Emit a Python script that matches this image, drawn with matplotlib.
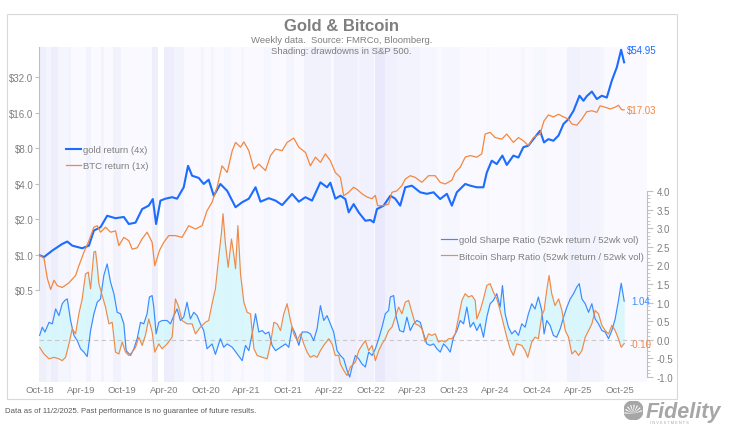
import numpy as np
import pandas as pd
import matplotlib
matplotlib.use("Agg")
import matplotlib.pyplot as plt
import matplotlib.dates as mdates
from matplotlib.ticker import FixedLocator, FuncFormatter, NullLocator
from matplotlib.patches import Rectangle, Circle, Wedge

plt.rcParams['font.family'] = ['Liberation Sans', 'DejaVu Sans']

# ---- data (dates as decimal years) ----
gold_yr = [2018.742, 2018.802, 2018.903, 2019.023, 2019.084, 2019.144, 2019.264, 2019.345, 2019.405,
           2019.485, 2019.565, 2019.666, 2019.766, 2019.826, 2019.907, 2019.987, 2020.067, 2020.116,
           2020.156, 2020.208, 2020.268, 2020.349, 2020.409, 2020.489, 2020.541, 2020.590, 2020.670,
           2020.730, 2020.790, 2020.851, 2020.931, 2021.011, 2021.112, 2021.192, 2021.272, 2021.353,
           2021.413, 2021.513, 2021.594, 2021.674, 2021.794, 2021.875, 2021.955, 2022.035, 2022.136,
           2022.216, 2022.256, 2022.316, 2022.377, 2022.437, 2022.477, 2022.537, 2022.597, 2022.678,
           2022.738, 2022.778, 2022.818, 2022.899, 2022.979, 2023.039, 2023.099, 2023.160, 2023.240,
           2023.340, 2023.421, 2023.501, 2023.581, 2023.662, 2023.722, 2023.782, 2023.883, 2023.943,
           2024.023, 2024.103, 2024.144, 2024.204, 2024.264, 2024.332, 2024.385, 2024.465, 2024.525,
           2024.585, 2024.646, 2024.706, 2024.786, 2024.834, 2024.887, 2024.947, 2025.007, 2025.067,
           2025.127, 2025.188, 2025.260, 2025.308, 2025.348, 2025.409, 2025.469, 2025.529, 2025.589,
           2025.650, 2025.710, 2025.762, 2025.798]
gold_ret = [1.0, 0.96, 1.09, 1.24, 1.30, 1.2, 1.14, 1.2, 1.61,
            1.72, 2.15, 2.05, 2.1, 1.83, 1.88, 2.45, 2.62, 2.98,
            1.83, 2.89, 3.0, 3.09, 3.0, 3.75, 5.7, 4.7, 4.5,
            4.0, 4.35, 3.18, 4.0, 3.5, 2.54, 2.8, 3.0, 3.75,
            2.83, 3.03, 2.89, 2.65, 3.29, 2.83, 3.09, 2.89, 4.13,
            3.75, 4.1, 3.0, 3.18, 2.98, 2.3, 2.7, 2.3, 1.95,
            1.98, 1.89, 2.45, 2.62, 3.18, 3.0, 2.62, 3.75, 3.87,
            3.4, 3.3, 3.4, 2.98, 3.3, 2.62, 3.4, 4.0, 3.87,
            3.75, 3.75, 5.0, 6.3, 5.9, 6.96, 5.8, 6.96, 6.7,
            8.2, 8.45, 9.6, 11.3, 9.0, 9.6, 9.3, 10.3, 12.9,
            14.2, 16.7, 22.4, 20.3, 22.2, 24.3, 21.0, 22.4, 21.6,
            30.1, 39.0, 54.9, 43.0]

btc_yr = [2018.742, 2018.802, 2018.843, 2018.883, 2018.923, 2018.963, 2019.023, 2019.104, 2019.184,
          2019.224, 2019.284, 2019.345, 2019.405, 2019.445, 2019.485, 2019.545, 2019.606, 2019.666,
          2019.706, 2019.766, 2019.826, 2019.867, 2019.927, 2019.987, 2020.047, 2020.108, 2020.140,
          2020.196, 2020.248, 2020.309, 2020.389, 2020.469, 2020.549, 2020.630, 2020.710, 2020.770,
          2020.831, 2020.891, 2020.951, 2021.011, 2021.072, 2021.112, 2021.172, 2021.212, 2021.272,
          2021.333, 2021.393, 2021.473, 2021.533, 2021.594, 2021.674, 2021.734, 2021.814, 2021.875,
          2021.955, 2022.015, 2022.076, 2022.136, 2022.196, 2022.256, 2022.316, 2022.377, 2022.417,
          2022.477, 2022.537, 2022.577, 2022.638, 2022.698, 2022.758, 2022.798, 2022.826, 2022.899,
          2022.959, 2022.999, 2023.059, 2023.119, 2023.160, 2023.220, 2023.280, 2023.360, 2023.441,
          2023.521, 2023.581, 2023.642, 2023.722, 2023.762, 2023.822, 2023.883, 2023.943, 2024.023,
          2024.083, 2024.124, 2024.184, 2024.244, 2024.324, 2024.385, 2024.465, 2024.525, 2024.585,
          2024.646, 2024.706, 2024.786, 2024.834, 2024.887, 2024.947, 2025.007, 2025.067, 2025.127,
          2025.168, 2025.228, 2025.288, 2025.348, 2025.409, 2025.469, 2025.509, 2025.569, 2025.630,
          2025.690, 2025.730, 2025.770, 2025.798]
btc_ret = [1.0, 0.94, 0.63, 0.51, 0.61, 0.55, 0.53, 0.58, 0.67,
           0.81, 1.05, 1.32, 1.72, 1.77, 1.56, 1.72, 1.56, 1.6,
           1.2, 1.41, 1.32, 1.12, 1.15, 1.37, 1.56, 1.28, 0.81,
           1.09, 1.28, 1.46, 1.46, 1.41, 1.77, 1.66, 1.77, 2.37,
           2.8, 3.75, 5.7, 5.0, 7.66, 9.0, 8.2, 9.1, 7.66,
           5.35, 5.9, 5.2, 6.96, 7.9, 7.66, 9.0, 9.8, 8.2,
           7.4, 5.7, 6.75, 6.1, 7.2, 6.3, 5.0, 4.55, 3.18,
           3.4, 3.75, 3.6, 3.3, 3.1, 3.0, 3.2, 2.62, 2.62,
           2.7, 3.4, 3.5, 3.87, 4.4, 4.7, 4.55, 4.13, 4.7,
           4.7, 4.13, 4.0, 4.3, 5.0, 5.53, 6.75, 6.96, 6.75,
           7.2, 10.6, 10.95, 9.9, 9.6, 10.6, 9.0, 9.9, 9.3,
           8.45, 9.9, 10.6, 13.7, 15.4, 14.8, 15.6, 14.8, 14.2,
           12.9, 12.6, 14.2, 16.4, 16.7, 16.2, 18.4, 17.9, 17.3,
           17.9, 18.6, 17.0, 17.03]

gold_sr_yr = [2018.750, 2018.782, 2018.814, 2018.863, 2018.903, 2018.943, 2018.983, 2019.023, 2019.055,
              2019.084, 2019.124, 2019.164, 2019.204, 2019.244, 2019.284, 2019.324, 2019.365, 2019.405,
              2019.445, 2019.485, 2019.525, 2019.565, 2019.606, 2019.646, 2019.686, 2019.726, 2019.766,
              2019.794, 2019.847, 2019.887, 2019.927, 2019.967, 2020.007, 2020.047, 2020.075, 2020.108,
              2020.128, 2020.156, 2020.188, 2020.228, 2020.288, 2020.329, 2020.369, 2020.409, 2020.449,
              2020.489, 2020.529, 2020.569, 2020.610, 2020.650, 2020.690, 2020.730, 2020.770, 2020.831,
              2020.871, 2020.931, 2020.971, 2021.011, 2021.072, 2021.132, 2021.192, 2021.232, 2021.272,
              2021.312, 2021.353, 2021.393, 2021.433, 2021.473, 2021.513, 2021.553, 2021.594, 2021.654,
              2021.714, 2021.754, 2021.794, 2021.834, 2021.875, 2021.915, 2021.975, 2022.015, 2022.055,
              2022.096, 2022.136, 2022.176, 2022.216, 2022.256, 2022.296, 2022.337, 2022.377, 2022.417,
              2022.457, 2022.489, 2022.518, 2022.558, 2022.598, 2022.638, 2022.678, 2022.718, 2022.759,
              2022.799, 2022.839, 2022.879, 2022.919, 2022.959, 2022.979, 2023.020, 2023.052, 2023.092,
              2023.140, 2023.180, 2023.220, 2023.261, 2023.301, 2023.341, 2023.381, 2023.421, 2023.461,
              2023.501, 2023.542, 2023.582, 2023.622, 2023.662, 2023.702, 2023.742, 2023.783, 2023.823,
              2023.863, 2023.903, 2023.943, 2023.983, 2024.024, 2024.064, 2024.104, 2024.144, 2024.184,
              2024.224, 2024.265, 2024.305, 2024.333, 2024.365, 2024.405, 2024.445, 2024.485, 2024.526,
              2024.566, 2024.606, 2024.646, 2024.686, 2024.726, 2024.766, 2024.807, 2024.835, 2024.867,
              2024.907, 2024.947, 2024.987, 2025.028, 2025.068, 2025.108, 2025.148, 2025.188, 2025.228,
              2025.257, 2025.289, 2025.329, 2025.369, 2025.409, 2025.449, 2025.489, 2025.530, 2025.570,
              2025.610, 2025.650, 2025.690, 2025.730, 2025.763, 2025.799]
gold_sr = [0.12, 0.34, 0.21, 0.47, 0.43, 0.83, 0.65, 0.97, 1.06,
           1.10, 0.52, 0.12, -0.02, -0.24, -0.33, -0.45, 0.25, 0.70,
           1.01, 1.10, 1.73, 2.04, 1.55, 1.24, 0.74, 0.70, 0.43,
           -0.29, -0.42, -0.24, 0.03, 0.47, 0.43, 0.70, 1.15, 1.19,
           0.88, 0.16, 0.47, 0.52, 0.52, 0.43, 0.65, 0.83, 0.52,
           0.61, 1.01, 0.56, 0.74, 0.65, 0.43, 0.25, -0.24, -0.11,
           -0.39, 0.03, -0.20, -0.11, -0.20, -0.38, -0.56, -0.15, -0.29,
           0.16, 0.70, 0.21, 0.25, 0.16, 0.21, -0.15, -0.29, -0.20,
           -0.11, -0.20, 0.34, 0.16, -0.15, 0.21, 0.21, 0.16, -0.02,
           0.30, 0.92, 0.52, 0.65, 0.43, 0.21, -0.29, -0.42, -0.51,
           -0.82, -1.0, -0.73, -0.42, -0.51, -0.65, -0.73, -0.33, -0.42,
           -0.24, 0.03, 0.34, 0.70, 0.79, 1.15, 1.19, 0.61, 0.25,
           0.21, 0.61, 0.25, 0.43, 0.52, 0.47, 0.16, -0.11, -0.15,
           -0.11, -0.24, -0.33, -0.11, -0.20, -0.33, 0.07, 0.25, 0.52,
           0.43, 0.88, 0.34, 0.47, 0.25, 0.43, 0.07, 0.61, 0.97,
           1.06, 1.24, 0.88, 1.46, 0.70, 0.34, 0.16, 0.25, 0.12,
           0.43, 0.34, 0.70, 0.97, 0.83, 1.15, 0.79, 0.16, 0.52,
           0.39, 0.12, 0.07, 0.30, 0.61, 0.88, 1.10, 1.24, 1.42,
           1.51, 1.10, 0.97, 0.74, 0.97, 0.56, 0.43, 0.25, 0.21,
           0.03, 0.25, 0.56, 1.06, 1.52, 1.04]

btc_sr_yr = [2018.750, 2018.802, 2018.863, 2018.923, 2018.983, 2019.023, 2019.063, 2019.104, 2019.144,
             2019.184, 2019.224, 2019.264, 2019.304, 2019.337, 2019.365, 2019.405, 2019.425, 2019.445,
             2019.465, 2019.505, 2019.545, 2019.586, 2019.626, 2019.666, 2019.706, 2019.746, 2019.786,
             2019.826, 2019.867, 2019.907, 2019.947, 2019.987, 2020.027, 2020.067, 2020.108, 2020.140,
             2020.188, 2020.228, 2020.288, 2020.349, 2020.389, 2020.429, 2020.469, 2020.529, 2020.590,
             2020.630, 2020.690, 2020.750, 2020.790, 2020.831, 2020.871, 2020.911, 2020.943, 2020.963,
             2020.991, 2021.023, 2021.063, 2021.092, 2021.112, 2021.140, 2021.172, 2021.212, 2021.252,
             2021.292, 2021.333, 2021.373, 2021.433, 2021.493, 2021.533, 2021.574, 2021.614, 2021.654,
             2021.694, 2021.734, 2021.774, 2021.814, 2021.855, 2021.895, 2021.935, 2021.975, 2022.015,
             2022.055, 2022.096, 2022.136, 2022.176, 2022.236, 2022.276, 2022.316, 2022.357, 2022.377,
             2022.417, 2022.457, 2022.497, 2022.558, 2022.598, 2022.638, 2022.678, 2022.718, 2022.759,
             2022.799, 2022.839, 2022.879, 2022.919, 2022.959, 2022.999, 2023.040, 2023.080, 2023.120,
             2023.160, 2023.200, 2023.240, 2023.281, 2023.321, 2023.361, 2023.401, 2023.441, 2023.481,
             2023.522, 2023.562, 2023.602, 2023.642, 2023.682, 2023.722, 2023.763, 2023.803, 2023.843,
             2023.883, 2023.923, 2023.963, 2024.004, 2024.024, 2024.064, 2024.104, 2024.144, 2024.184,
             2024.224, 2024.265, 2024.305, 2024.345, 2024.385, 2024.425, 2024.465, 2024.506, 2024.566,
             2024.606, 2024.638, 2024.686, 2024.726, 2024.766, 2024.807, 2024.835, 2024.867, 2024.895,
             2024.927, 2024.967, 2025.008, 2025.048, 2025.088, 2025.128, 2025.168, 2025.208, 2025.249,
             2025.289, 2025.329, 2025.369, 2025.409, 2025.449, 2025.489, 2025.530, 2025.570, 2025.610,
             2025.650, 2025.690, 2025.730, 2025.763, 2025.799]
btc_sr = [-0.20, -0.38, -0.51, -0.47, -0.51, -0.56, -0.47, -0.11, 0.30,
          0.16, 0.70, 1.10, 1.77, 1.82, 1.37, 2.36, 2.38, 2.0,
          1.51, 1.19, 0.88, 0.43, 0.47, -0.33, -0.38, -0.06, -0.33,
          -0.42, -0.33, -0.20, 0.07, -0.15, 0.12, 0.56, 0.21, -0.33,
          -0.11, -0.24, -0.11, 0.07, 1.10, 0.88, 0.52, 0.43, 0.43,
          0.16, 0.34, 0.47, 0.52, 0.97, 1.37, 2.22, 2.85, 3.39,
          2.60, 1.95, 2.71, 2.27, 1.91, 3.07, 1.77, 1.01, 0.74,
          0.70, -0.24, -0.42, -0.47, -0.51, -0.11, 0.47, 0.43, 0.25,
          0.70, 0.97, 0.52, 0.16, -0.02, 0.16, -0.11, -0.33, -0.47,
          -0.42, -0.47, -0.29, -0.15, 0.03, -0.11, -0.42, -0.42, -0.65,
          -0.82, -0.96, -0.73, -0.60, -0.29, -0.15, -0.02, -0.29, -0.15,
          -0.56, -0.29, -0.11, 0.03, 0.25, 0.34, 0.61, 0.88, 0.70,
          1.01, 1.06, 0.74, 0.43, 0.39, 0.30, -0.06, 0.16, 0.12,
          0.16, -0.06, -0.02, -0.06, 0.03, 0.03, 0.16, 0.61, 1.06,
          1.24, 1.15, 1.19, 1.06, 0.56, 0.79, 1.10, 1.46, 1.51,
          1.28, 1.10, 0.79, 0.43, 0.07, -0.24, -0.42, -0.11, -0.15,
          -0.29, -0.47, -0.06, 0.07, 0.03, 0.65, 0.79, 1.33, 1.73,
          1.24, 0.92, 1.10, 0.79, 0.25, 0.07, -0.38, -0.29, -0.42,
          -0.29, 0.07, 0.25, 0.43, 0.79, 0.70, 0.39, 0.25, 0.16,
          0.39, 0.25, 0.03, -0.20, -0.10]

# S&P 500 drawdown shading bands (start, end, relative depth; -1 = blank)
dd_start = [2018.746, 2018.826, 2018.887, 2018.967, 2019.108, 2019.308, 2019.489, 2019.630, 2020.112,
            2020.180, 2020.252, 2020.373, 2020.694, 2020.815, 2020.975, 2021.176, 2021.457, 2021.718,
            2021.939, 2022.300, 2022.577, 2022.617, 2022.798, 2022.919, 2023.059, 2023.340, 2023.600,
            2024.144, 2024.560, 2024.706, 2025.107, 2025.270, 2025.509]
dd_end = [2018.826, 2018.887, 2018.967, 2019.108, 2019.128, 2019.369, 2019.529, 2019.730, 2020.180,
          2020.252, 2020.373, 2020.493, 2020.734, 2020.855, 2021.055, 2021.216, 2021.538, 2021.819,
          2022.260, 2022.577, 2022.617, 2022.778, 2022.919, 2023.059, 2023.340, 2023.541, 2023.820,
          2024.170, 2024.600, 2024.867, 2025.270, 2025.509, 2025.560]
dd_level = [0.45, 0.2, 0.5, 0.15, 0.25, 0.25, 0.25, 0.3, 0.45,
            -1, 0.5, 0.25, 0.2, 0.2, 0.12, 0.15, 0.1, 0.15,
            0.3, 0.4, 0.2, 0.35, 0.7, 0.35, 0.25, 0.1, 0.1,
            0.1, 0.12, 0.08, 0.35, 0.25, 0.15]

tick_dates = ['2018-10-01', '2019-04-01', '2019-10-01', '2020-04-01', '2020-10-01', '2021-04-01',
              '2021-10-01', '2022-04-01', '2022-10-01', '2023-04-01', '2023-10-01', '2024-04-01',
              '2024-10-01', '2025-04-01', '2025-10-01']
left_ticks = [0.5, 1, 2, 4, 8, 16, 32]
right_ticks = [-1.0, -0.5, 0.0, 0.5, 1.0, 1.5, 2.0, 2.5, 3.0, 3.5, 4.0]


def to_dates(years):
    out = []
    for y in years:
        yr = int(y)
        out.append(pd.Timestamp(yr, 1, 1) + pd.Timedelta(days=(y - yr) * 365.25))
    return pd.DatetimeIndex(out)


GRAY = '#7f7f7f'
BLUE = '#1b6cff'
ORANGE = '#f5873d'
BLUE2 = '#3a8bff'
ORANGE2 = '#ef8a47'

gold_d = to_dates(gold_yr)
btc_d = to_dates(btc_yr)
gsr_d = to_dates(gold_sr_yr)
bsr_d = to_dates(btc_sr_yr)

fig = plt.figure(figsize=(7.34, 4.27), dpi=100)
fig.patches.append(Rectangle((0.0095, 0.063), 0.9125, 0.902, transform=fig.transFigure,
                             fill=False, edgecolor='#d9d9d9', lw=0.8))

ax = fig.add_axes([0.0531, 0.103, 0.8284, 0.7846])
ax.set_facecolor('#f9f9ff')

# drawdown shading
for s, e, lv in zip(to_dates(dd_start), to_dates(dd_end), dd_level):
    if lv < 0:
        ax.axvspan(s, e, color='white', lw=0, zorder=0.5)
    else:
        ax.axvspan(s, e, color='#c4c4f4', alpha=lv * 0.42, lw=0, zorder=0.5)

ax.plot(gold_d, gold_ret, color=BLUE, lw=1.5, label='gold return (4x)', zorder=3)
ax.plot(btc_d, btc_ret, color=ORANGE, lw=0.9, label='BTC return (1x)', zorder=3)

ax.set_yscale('log')
ax.set_ylim(0.0837, 58.0)
ax.yaxis.set_major_locator(FixedLocator(left_ticks))
ax.yaxis.set_minor_locator(NullLocator())
ax.yaxis.set_major_formatter(FuncFormatter(lambda v, p: '${:.1f}'.format(v)))
ax.tick_params(axis='y', colors='#bfbfbf', labelcolor=GRAY, labelsize=7, length=3, width=0.8, pad=1)

ax.set_xlim(to_dates([2018.742])[0], to_dates([2026.075])[0])
ax.xaxis.set_major_locator(FixedLocator(mdates.date2num(pd.to_datetime(tick_dates))))
ax.xaxis.set_major_formatter(mdates.DateFormatter('%b-%y'))
ax.tick_params(axis='x', length=0, labelcolor=GRAY, labelsize=6.8, pad=2)

for sp in ['top', 'bottom', 'right']:
    ax.spines[sp].set_visible(False)
ax.spines['left'].set_color('#bfbfbf')
ax.spines['left'].set_bounds(0.5, 58.0)

leg1 = ax.legend(loc='center left', bbox_to_anchor=(0.03, 0.67), frameon=False, fontsize=6.8,
                 handlelength=1.6, handletextpad=0.25, labelspacing=0.75, labelcolor=GRAY)

ax.annotate('${:.2f}'.format(54.95), (gold_d[-1], 54.95), xytext=(2, 0), textcoords='offset points',
            color=BLUE, fontsize=7, va='center', ha='left')
ax.annotate('${:.2f}'.format(btc_ret[-1]), (btc_d[-1], btc_ret[-1]), xytext=(2, 0),
            textcoords='offset points', color=ORANGE, fontsize=7, va='center', ha='left')

# Sharpe ratios on the right axis
ax2 = ax.twinx()
ax2.patch.set_visible(False)
grid = np.union1d(mdates.date2num(gsr_d), mdates.date2num(bsr_d))
g_i = np.interp(grid, mdates.date2num(gsr_d), gold_sr)
b_i = np.interp(grid, mdates.date2num(bsr_d), btc_sr)
ax2.fill_between(grid, g_i, b_i, color='#d4f7fc', alpha=0.85, lw=0, zorder=1)
ax2.axhline(0, color='#c8c8c8', lw=0.8, ls=(0, (4, 3)), zorder=1.5)
ax2.plot(gsr_d, gold_sr, color=BLUE2, lw=0.85, zorder=3,
         label='gold Sharpe Ratio (52wk return / 52wk vol)')
ax2.plot(bsr_d, btc_sr, color=ORANGE2, lw=0.85, zorder=3,
         label='Bitcoin Sharp Ratio (52wk return / 52wk vol)')

ax2.set_ylim(-1.134, 7.871)
ax2.yaxis.set_major_locator(FixedLocator(right_ticks))
ax2.yaxis.set_minor_locator(FixedLocator(np.round(np.arange(-1.0, 4.01, 0.1), 2)))
ax2.yaxis.set_major_formatter(FuncFormatter(lambda v, p: '{:.1f}'.format(v)))
ax2.tick_params(axis='y', which='major', colors='#bfbfbf', labelcolor=GRAY, labelsize=7,
                length=4, width=0.8, pad=3)
ax2.tick_params(axis='y', which='minor', colors='#bfbfbf', length=2, width=0.6)
for sp in ['top', 'bottom', 'left']:
    ax2.spines[sp].set_visible(False)
ax2.spines['right'].set_color('#bfbfbf')
ax2.spines['right'].set_bounds(-1.0, 4.0)
ax2.set_xlim(ax.get_xlim())

ax2.legend(loc='center left', bbox_to_anchor=(0.648, 0.40), frameon=False, fontsize=6.8,
           handlelength=1.6, handletextpad=0.25, labelspacing=0.75, labelcolor=GRAY)

ax2.annotate('{:.2f}'.format(gold_sr[-1]), (gsr_d[-1], gold_sr[-1]), xytext=(5, 0),
             textcoords='offset points', color=BLUE2, fontsize=7, va='center', ha='left')
ax2.annotate('{:.2f}'.format(btc_sr[-1]), (bsr_d[-1], btc_sr[-1]), xytext=(4, 0),
             textcoords='offset points', color=ORANGE2, fontsize=7, va='center', ha='left')

# titles and notes
fig.text(0.465, 0.9375, 'Gold & Bitcoin', ha='center', va='center', fontsize=12,
         fontweight='bold', color=GRAY)
fig.text(0.465, 0.904, 'Weekly data.  Source: FMRCo, Bloomberg.', ha='center', va='center',
         fontsize=6.8, color=GRAY)
fig.text(0.465, 0.879, 'Shading: drawdowns in S&P 500.', ha='center', va='center',
         fontsize=6.8, color=GRAY)
fig.text(0.0068, 0.036, 'Data as of 11/2/2025. Past performance is no guarantee of future results.',
         ha='left', va='center', fontsize=5.6, color='#595959')

# Fidelity mark
fig.text(0.880, 0.035, 'Fidelity', ha='left', va='center', fontsize=15.5, fontweight='bold',
         fontstyle='italic', color='#a6a6a6')
fig.text(0.885, 0.009, 'I N V E S T M E N T S', ha='left', va='center', fontsize=2.8,
         color='#a6a6a6')
lax = fig.add_axes([0.848, 0.014, 0.030, 0.045])
lax.set_xlim(-1, 1)
lax.set_ylim(-1, 1)
lax.set_aspect('equal')
lax.axis('off')
lax.add_patch(Circle((0, 0), 1, color='#a6a6a6'))
for ang in range(20, 180, 22):
    lax.add_patch(Wedge((0, -0.35), 0.95, ang - 4, ang + 4, color='white', lw=0))

fig.savefig('out.png', dpi=100)
